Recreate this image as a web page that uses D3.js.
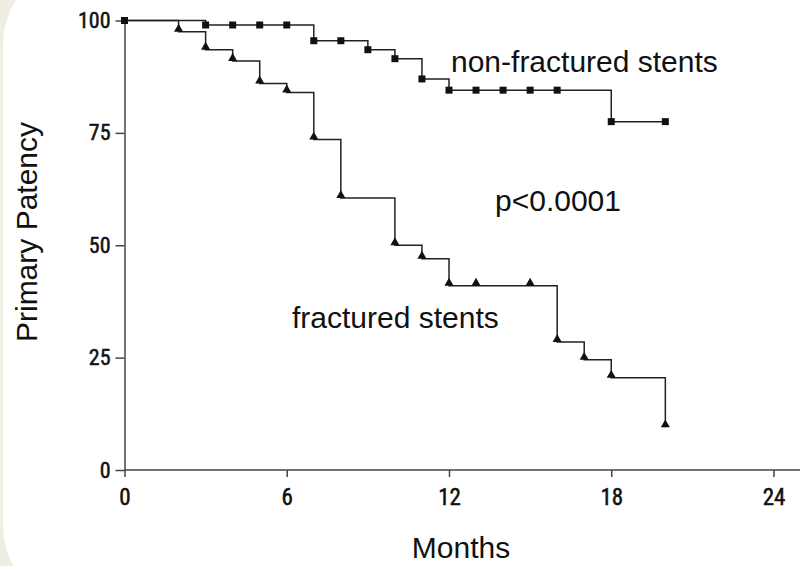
<!DOCTYPE html>
<html>
<head>
<meta charset="utf-8">
<script src="https://cdn.jsdelivr.net/npm/d3@7"></script>
<style>
  html, body { margin: 0; padding: 0; background: #efede4; }
  svg { display: block; }
  text { font-family: "Liberation Sans", Arial, Helvetica, sans-serif; fill: #111; }
</style>
</head>
<body>
<svg id="chart" width="800" height="566"></svg>
<script>
// Kaplan-Meier style primary patency
const nonFracMonths = [0, 3, 4, 5, 6, 7, 8, 9, 10, 11, 12, 13, 14, 15, 16, 18, 20];
const nonFracValues = [100, 99, 99, 99, 99, 95.5, 95.5, 93.5, 91.5, 87, 84.5, 84.5, 84.5, 84.5, 84.5, 77.5, 77.5];

const fracMonths = [0, 2, 3, 4, 5, 6, 7, 8, 10, 11, 12, 13, 15, 16, 17, 18, 20];
const fracValues = [100, 97.5, 93.5, 91, 86, 84, 73.5, 60.5, 50, 47, 41, 41, 41, 28.5, 24.5, 20.5, 9.5];

const xTicks = [0, 6, 12, 18, 24];
const yTicks = [0, 25, 50, 75, 100];

const tickFont = '"Roboto Condensed", "Liberation Sans", sans-serif';

const svg = d3.select("#chart");

// white rounded panel over the beige page
svg.append("rect")
    .attr("x", 3)
    .attr("y", -40)
    .attr("width", 900)
    .attr("height", 650)
    .attr("rx", 85)
    .attr("fill", "#fff");

const x = d3.scaleLinear().domain([0, 24]).range([124.5, 773.5]);
const y = d3.scaleLinear().domain([0, 100]).range([470, 20.5]);

// x axis
const xAxis = svg.append("g")
    .attr("transform", `translate(0,${y(0)})`)
    .call(d3.axisBottom(x).tickValues(xTicks).tickSize(7).tickPadding(12).tickSizeOuter(0));
xAxis.select(".domain").attr("d", `M${x(0)},0H800`);
xAxis.selectAll("text")
    .style("font-family", tickFont)
    .style("font-size", "23px");

// y axis
const yAxis = svg.append("g")
    .attr("transform", `translate(${x(0)},0)`)
    .call(d3.axisLeft(y).tickValues(yTicks).tickSize(9).tickPadding(5).tickSizeOuter(0));
yAxis.selectAll("text")
    .style("font-family", tickFont)
    .style("font-size", "22px");

// scanned labels look a bit heavier
svg.selectAll(".tick text")
    .attr("fill", "#111")
    .attr("stroke", "#111")
    .attr("stroke-width", 0.5);

svg.selectAll(".domain, .tick line")
    .attr("stroke", "#444")
    .attr("stroke-width", 1.5);

const line = d3.line()
    .x(d => x(d[0]))
    .y(d => y(d[1]))
    .curve(d3.curveStepAfter);

const nonFrac = nonFracMonths.map((m, i) => [m, nonFracValues[i]]);
const frac = fracMonths.map((m, i) => [m, fracValues[i]]);

svg.append("path")
    .datum(frac)
    .attr("d", line)
    .attr("fill", "none")
    .attr("stroke", "#222")
    .attr("stroke-width", 1.5);

svg.append("path")
    .datum(nonFrac)
    .attr("d", line)
    .attr("fill", "none")
    .attr("stroke", "#222")
    .attr("stroke-width", 1.5);

// triangle markers sit on the line
const triSize = 36;
const triH = Math.sqrt(4 * triSize / Math.sqrt(3)) * Math.sqrt(3) / 2;
svg.selectAll(".tri")
    .data(frac.slice(1))
    .enter().append("path")
    .attr("class", "tri")
    .attr("d", d3.symbol().type(d3.symbolTriangle).size(triSize))
    .attr("transform", d => `translate(${x(d[0])},${y(d[1]) - triH / 3})`)
    .attr("fill", "#111");

svg.selectAll(".sq")
    .data(nonFrac)
    .enter().append("path")
    .attr("class", "sq")
    .attr("d", d3.symbol().type(d3.symbolSquare).size(49))
    .attr("transform", d => `translate(${x(d[0])},${y(d[1])})`)
    .attr("fill", "#111");

// annotations
svg.append("text")
    .attr("x", 451)
    .attr("y", 72)
    .style("font-size", "30px")
    .text("non-fractured stents");

svg.append("text")
    .attr("x", 495)
    .attr("y", 211)
    .style("font-size", "30px")
    .text("p<0.0001");

svg.append("text")
    .attr("x", 292)
    .attr("y", 328)
    .style("font-size", "30px")
    .text("fractured stents");

// axis titles
svg.append("text")
    .attr("transform", "translate(37,232) rotate(-90)")
    .attr("text-anchor", "middle")
    .style("font-size", "30px")
    .text("Primary Patency");

svg.append("text")
    .attr("x", 461)
    .attr("y", 558)
    .attr("text-anchor", "middle")
    .style("font-size", "30px")
    .text("Months");
</script>
</body>
</html>
